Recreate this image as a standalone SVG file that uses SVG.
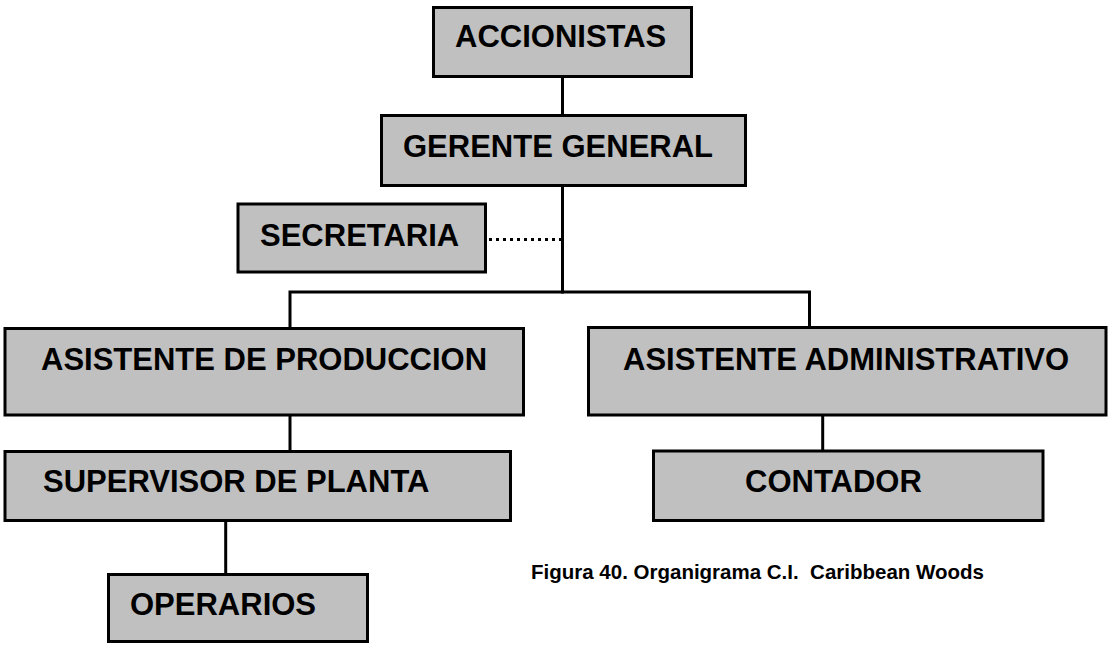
<svg xmlns="http://www.w3.org/2000/svg" width="1109" height="646" viewBox="0 0 1109 646">
<style>
.box{fill:#c0c0c0;stroke:#000;stroke-width:3}
.lbl{font-family:"Liberation Sans",Arial,sans-serif;font-weight:bold;font-size:31px;fill:#000}
.cap{font-family:"Liberation Sans",Arial,sans-serif;font-weight:bold;font-size:20.5px;fill:#000;white-space:pre}
.ln{stroke:#000;stroke-width:3;fill:none}
.dot{stroke:#000;stroke-width:3;fill:none;stroke-dasharray:3 4}
</style>
<rect width="1109" height="646" fill="#fff"/>
<g id="connectors">
<line class="ln" x1="562.5" y1="78" x2="562.5" y2="114"/>
<line class="ln" x1="562.5" y1="187" x2="562.5" y2="293.5"/>
<polyline class="ln" points="290,327 290,292 809.5,292 809.5,327"/>
<line class="dot" x1="489" y1="239.5" x2="561" y2="239.5"/>
<line class="ln" x1="290" y1="416" x2="290" y2="450"/>
<line class="ln" x1="225.7" y1="522" x2="225.7" y2="573"/>
<line class="ln" x1="822.7" y1="416" x2="822.7" y2="450"/>
</g>
<g id="accionistas"><rect class="box" x="433.5" y="7.5" width="258" height="69"/><text class="lbl" x="455" y="47">ACCIONISTAS</text></g>
<g id="gerente"><rect class="box" x="381.5" y="115.5" width="364" height="70"/><text class="lbl" x="403" y="157">GERENTE GENERAL</text></g>
<g id="secretaria"><rect class="box" x="238" y="204" width="247.5" height="68"/><text class="lbl" x="260" y="246">SECRETARIA</text></g>
<g id="asist-prod"><rect class="box" x="5" y="328.5" width="518.5" height="86.5"/><text class="lbl" x="41" y="370">ASISTENTE DE PRODUCCION</text></g>
<g id="asist-admin"><rect class="box" x="588.5" y="327.5" width="517.5" height="87.5"/><text class="lbl" x="623" y="370">ASISTENTE ADMINISTRATIVO</text></g>
<g id="supervisor"><rect class="box" x="5" y="451.5" width="505.5" height="69"/><text class="lbl" x="43" y="492">SUPERVISOR DE PLANTA</text></g>
<g id="operarios"><rect class="box" x="108.5" y="574.5" width="259" height="67"/><text class="lbl" x="130" y="615">OPERARIOS</text></g>
<g id="contador"><rect class="box" x="653.5" y="451" width="389.5" height="69.5"/><text class="lbl" x="745" y="492">CONTADOR</text></g>
<text class="cap" x="531" y="579" xml:space="preserve">Figura 40. Organigrama C.I.  Caribbean Woods</text>
</svg>
